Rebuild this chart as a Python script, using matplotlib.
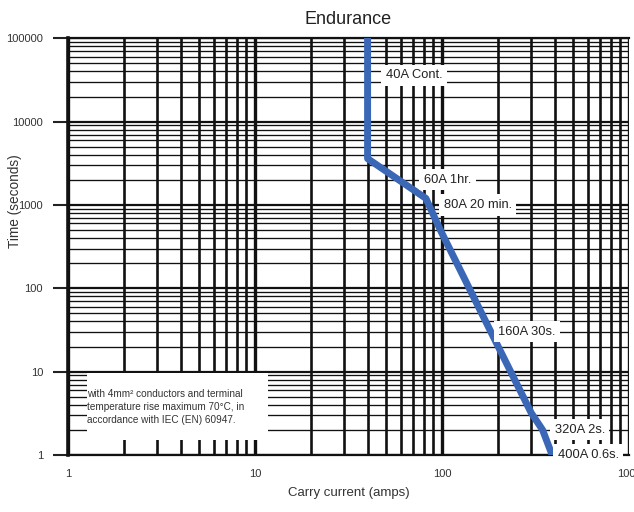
import numpy as np
import matplotlib.pyplot as plt
from matplotlib.patches import Rectangle
from matplotlib.ticker import LogLocator, NullFormatter, FixedLocator

plt.rcParams['font.family'] = ['Liberation Sans', 'DejaVu Sans']

# endurance curve
current = [40, 40, 82, 98, 180, 300, 345, 388]
seconds = [100000, 3600, 1200, 500, 32, 3.2, 2, 1]

# rating labels and where they sit
rating_text = ["40A Cont.", "60A 1hr.", "80A 20 min.", "160A 30s.", "320A 2s.", "400A 0.6s."]
rating_x = [50, 80, 102, 200, 400, 415]
rating_y = [36000, 2000, 1000, 30, 2, 1]

x_ticks = [1, 10, 100, 1000]
y_ticks = [1, 10, 100, 1000, 10000, 100000]

note = ("with 4mm\u00b2 conductors and terminal\n"
        "temperature rise maximum 70\u00b0C, in\n"
        "accordance with IEC (EN) 60947.")

fig = plt.figure(figsize=(6.34, 5.12), dpi=100)
ax = fig.add_axes([68 / 634, 57 / 512, 561 / 634, 416.7 / 512])

ax.set_xscale('log')
ax.set_yscale('log')
ax.set_xlim(1, 1000)
ax.set_ylim(1, 100000)

ax.xaxis.set_major_locator(FixedLocator(x_ticks))
ax.yaxis.set_major_locator(FixedLocator(y_ticks))
ax.set_xticklabels([str(v) for v in x_ticks])
ax.set_yticklabels([str(v) for v in y_ticks])
ax.xaxis.set_minor_locator(LogLocator(base=10, subs=np.arange(2, 10), numticks=100))
ax.yaxis.set_minor_locator(LogLocator(base=10, subs=np.arange(2, 10), numticks=100))
ax.xaxis.set_minor_formatter(NullFormatter())
ax.yaxis.set_minor_formatter(NullFormatter())

ax.set_axisbelow(True)
ax.grid(True, which='major', axis='x', color='#111111', lw=2.4)
ax.grid(True, which='minor', axis='x', color='#111111', lw=1.9)
ax.grid(True, which='major', axis='y', color='#111111', lw=1.6)
ax.grid(True, which='minor', axis='y', color='#111111', lw=0.95)

ax.tick_params(axis='x', which='both', length=0, pad=10, labelsize=8, labelcolor='#333333')
ax.tick_params(axis='y', which='major', length=11, width=1.5, color='#222222', pad=7,
               labelsize=8, labelcolor='#333333')
ax.tick_params(axis='y', which='minor', length=0)

ax.spines['right'].set_visible(False)
ax.spines['left'].set_linewidth(2.6)
ax.spines['left'].set_color('#111111')
ax.spines['top'].set_linewidth(1.6)
ax.spines['top'].set_color('#111111')
ax.spines['bottom'].set_linewidth(1.6)
ax.spines['bottom'].set_color('#111111')

ax.plot(current, seconds, color='#3a67b6', lw=5, solid_joinstyle='round', zorder=3)

for txt, x, y in zip(rating_text, rating_x, rating_y):
    ax.text(x, y, txt, fontsize=9.3, color='#222222', ha='left', va='center', zorder=4,
            bbox=dict(boxstyle='square,pad=0.35', fc='white', ec='none'))

ax.add_patch(Rectangle((0.034, 0.036), 0.323, 0.161, transform=ax.transAxes,
                       fc='white', ec='none', zorder=2))
ax.text(0.034, 0.115, note, transform=ax.transAxes, fontsize=7.2, color='#333333',
        ha='left', va='center', linespacing=1.35, zorder=4)

ax.set_title("Endurance", fontsize=13, color='#222222', pad=10)
ax.set_xlabel("Carry current (amps)", fontsize=9.5, color='#333333', labelpad=6)
ax.set_ylabel("Time (seconds)", fontsize=9.8, color='#333333')
ax.yaxis.set_label_coords(-0.082, 0.61)

fig.savefig("out.png", dpi=100)
